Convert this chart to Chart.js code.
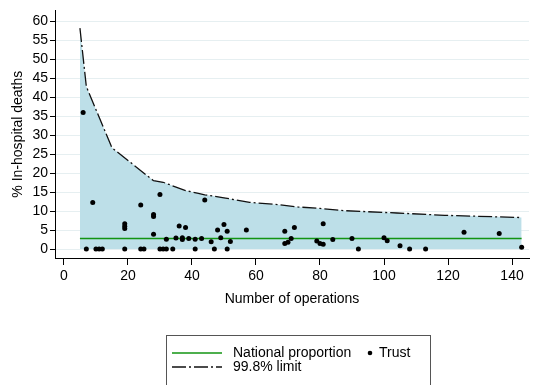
<!DOCTYPE html>
<html>
<head>
<meta charset="utf-8">
<title>In-hospital deaths funnel plot</title>
<script src="https://cdn.jsdelivr.net/npm/chart.js@4/dist/chart.umd.min.js"></script>
<style>
  html, body { margin: 0; padding: 0; background: #fff; }
  #wrap { width: 533px; height: 385px; }
</style>
</head>
<body>
<div id="wrap"><canvas id="funnel" width="533" height="385"></canvas></div>
<script>
// Trusts: number of operations and % in-hospital deaths
const trustOps = [6, 7, 9, 10, 11, 12, 19, 19, 19, 19, 24, 24, 25, 28, 28, 28, 30, 30, 31, 32,
  32, 34, 35, 36, 37, 37, 38, 39, 41, 41, 43, 44, 46, 47, 48, 49, 50, 51, 51, 52,
  57, 69, 69, 70, 71, 72, 79, 80, 81, 81, 84, 90, 92, 100, 101, 105, 108, 113, 125, 136, 143];
const trustPct = [36, 0, 12.3, 0, 0, 0, 6.7, 6.0, 5.4, 0, 11.6, 0, 0, 9.1, 8.6, 3.9, 14.4, 0, 0, 0,
  2.6, 0, 2.9, 6.1, 3.0, 2.5, 5.7, 2.8, 2.6, 0, 2.8, 12.9, 1.9, 0, 5.0, 3.0, 6.5, 4.7, 0, 2.0,
  5.0, 4.7, 1.5, 1.8, 2.8, 5.7, 2.1, 1.5, 1.3, 6.7, 2.5, 2.8, 0, 3.0, 2.2, 0.9, 0, 0, 4.4, 4.1, 0.5];

// Upper 99.8% control limit
const limitOps = [5, 7, 15, 28, 31, 38, 42, 44, 50, 58, 67, 73, 80, 88, 104, 119, 143];
const limitPct = [58.2, 42.8, 26.7, 18.0, 17.6, 15.4, 14.7, 14.3, 13.5, 12.3, 11.7, 11.1, 10.7, 10.1, 9.5, 8.9, 8.3];

// National proportion, drawn across the range of trust sizes
const nationalPct = 2.8;
const nationalOps = [5, 143];

const xTicks = [0, 20, 40, 60, 80, 100, 120, 140];
const yTicks = [0, 5, 10, 15, 20, 25, 30, 35, 40, 45, 50, 55, 60];

const FONT = "'Liberation Sans', Arial, sans-serif";
const SIZE = 14;

const toPoints = (xs, ys) => xs.map((x, i) => ({ x: x, y: Array.isArray(ys) ? ys[i] : ys }));

// boxed legend under the axis title
const boxLegend = {
  id: 'boxLegend',
  afterDraw(chart) {
    const ctx = chart.ctx;
    const ds = chart.data.datasets;
    const items = [
      { index: 1, x: 172, y: 353 },
      { index: 2, x: 366, y: 353 },
      { index: 0, x: 172, y: 367 }
    ];
    ctx.save();
    ctx.strokeStyle = '#555';
    ctx.lineWidth = 1;
    ctx.strokeRect(166.5, 335.5, 264, 60);
    ctx.font = SIZE + 'px ' + FONT;
    ctx.textBaseline = 'middle';
    ctx.fillStyle = '#000';
    items.forEach(it => {
      const d = ds[it.index];
      if (d.showLine) {
        ctx.beginPath();
        ctx.setLineDash(d.borderDash || []);
        ctx.strokeStyle = d.borderColor;
        ctx.lineWidth = d.borderWidth;
        ctx.moveTo(it.x, it.y);
        ctx.lineTo(it.x + 50, it.y);
        ctx.stroke();
        ctx.setLineDash([]);
        ctx.fillStyle = '#000';
        ctx.fillText(d.label, it.x + 61, it.y);
      } else {
        ctx.beginPath();
        ctx.fillStyle = d.pointBackgroundColor;
        ctx.arc(it.x + 4, it.y, 2.3, 0, Math.PI * 2);
        ctx.fill();
        ctx.fillStyle = '#000';
        ctx.fillText(d.label, it.x + 13, it.y);
      }
    });
    ctx.restore();
  }
};

new Chart(document.getElementById('funnel'), {
  type: 'scatter',
  data: {
    datasets: [
      {
        label: '99.8% limit',
        data: toPoints(limitOps, limitPct),
        showLine: true,
        fill: 'origin',
        backgroundColor: '#bddfe8',
        borderColor: '#111',
        borderWidth: 1.3,
        borderDash: [14, 3, 2, 3],
        pointRadius: 0,
        tension: 0,
        order: 2
      },
      {
        label: 'National proportion',
        data: toPoints(nationalOps, nationalPct),
        showLine: true,
        fill: false,
        borderColor: '#129412',
        borderWidth: 1.5,
        pointRadius: 0,
        order: 1
      },
      {
        label: 'Trust',
        data: toPoints(trustOps, trustPct),
        pointRadius: 2.5,
        pointBackgroundColor: '#000',
        pointBorderWidth: 0,
        order: 0
      }
    ]
  },
  options: {
    responsive: false,
    devicePixelRatio: 1,
    animation: false,
    layout: { padding: { top: 8, right: 0, bottom: 75, left: 0 } },
    plugins: {
      legend: { display: false },
      tooltip: { enabled: false }
    },
    scales: {
      x: {
        type: 'linear',
        min: -2.79,
        max: 145.3,
        afterBuildTicks: s => { s.ticks = xTicks.map(v => ({ value: v })); },
        afterFit: s => { s.height = 52; },
        grid: { drawOnChartArea: false, tickLength: 7, tickColor: '#000' },
        border: { color: '#000', width: 1 },
        ticks: { color: '#000', font: { family: FONT, size: SIZE }, padding: 3, maxRotation: 0, autoSkip: false },
        title: { display: true, text: 'Number of operations', color: '#000',
                 font: { family: FONT, size: SIZE }, padding: { top: 0, bottom: 2 } }
      },
      y: {
        type: 'linear',
        min: -2.35,
        max: 62.87,
        afterBuildTicks: s => { s.ticks = yTicks.map(v => ({ value: v })); },
        afterFit: s => { s.width = 55; },
        grid: { color: '#e6eff1', tickLength: 5, tickColor: '#000' },
        border: { color: '#000', width: 1 },
        ticks: { color: '#000', font: { family: FONT, size: SIZE }, padding: 2, autoSkip: false },
        title: { display: true, text: '% In-hospital deaths', color: '#000',
                 font: { family: FONT, size: SIZE }, padding: { top: 10, bottom: 0 } }
      }
    }
  },
  plugins: [boxLegend]
});
</script>
</body>
</html>
